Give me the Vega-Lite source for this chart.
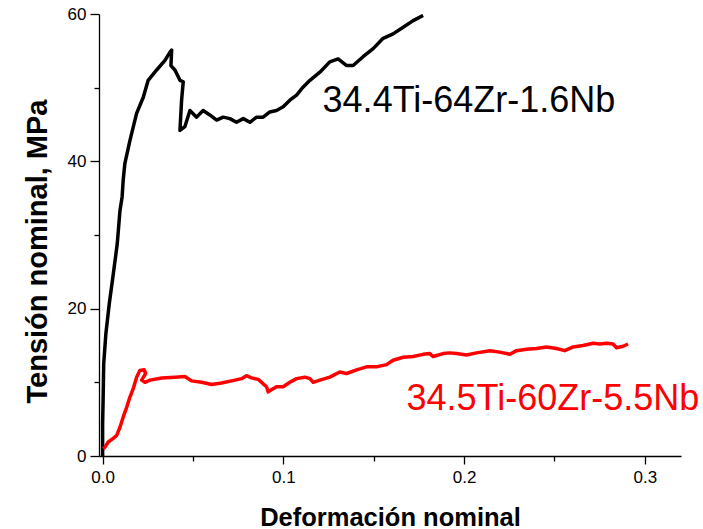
{
  "$schema": "https://vega.github.io/schema/vega-lite/v6.json",
  "autosize": {"type": "none"},
  "width": 582,
  "height": 442,
  "padding": {"left": 99, "top": 14, "right": 22, "bottom": 73},
  "background": "white",
  "config": {
    "view": {"stroke": null},
    "font": "Liberation Sans",
    "axis": {"grid": false, "domainColor": "black", "tickColor": "black", "labelColor": "black", "titleColor": "black", "domainWidth": 1.3, "tickWidth": 1.3, "labelFont": "Liberation Sans", "titleFont": "Liberation Sans", "labelFontSize": 17, "titleFontSize": 25.5, "titleFontWeight": "bold"}
  },
  "datasets": {
    "curves": [
      {"s": "A", "i": 0, "x": 0.0, "y": 0.0},
      {"s": "A", "i": 1, "x": 0.0, "y": 4.4},
      {"s": "A", "i": 2, "x": 0.0003, "y": 8.0},
      {"s": "A", "i": 3, "x": 0.0006, "y": 12.5},
      {"s": "A", "i": 4, "x": 0.0018, "y": 16.6},
      {"s": "A", "i": 5, "x": 0.0037, "y": 20.7},
      {"s": "A", "i": 6, "x": 0.0059, "y": 24.7},
      {"s": "A", "i": 7, "x": 0.0081, "y": 28.8},
      {"s": "A", "i": 8, "x": 0.0096, "y": 33.3},
      {"s": "A", "i": 9, "x": 0.0108, "y": 35.2},
      {"s": "A", "i": 10, "x": 0.0114, "y": 37.5},
      {"s": "A", "i": 11, "x": 0.0123, "y": 39.7},
      {"s": "A", "i": 12, "x": 0.0151, "y": 42.8},
      {"s": "A", "i": 13, "x": 0.0188, "y": 46.5},
      {"s": "A", "i": 14, "x": 0.0225, "y": 48.7},
      {"s": "A", "i": 15, "x": 0.0252, "y": 51.0},
      {"s": "A", "i": 16, "x": 0.0299, "y": 52.4},
      {"s": "A", "i": 17, "x": 0.0345, "y": 53.7},
      {"s": "A", "i": 18, "x": 0.0372, "y": 54.8},
      {"s": "A", "i": 19, "x": 0.0382, "y": 55.1},
      {"s": "A", "i": 20, "x": 0.0378, "y": 53.0},
      {"s": "A", "i": 21, "x": 0.0400, "y": 52.4},
      {"s": "A", "i": 22, "x": 0.0428, "y": 51.0},
      {"s": "A", "i": 23, "x": 0.0446, "y": 50.8},
      {"s": "A", "i": 24, "x": 0.0437, "y": 48.3},
      {"s": "A", "i": 25, "x": 0.0428, "y": 44.2},
      {"s": "A", "i": 26, "x": 0.0455, "y": 44.7},
      {"s": "A", "i": 27, "x": 0.0483, "y": 46.9},
      {"s": "A", "i": 28, "x": 0.0520, "y": 46.0},
      {"s": "A", "i": 29, "x": 0.0556, "y": 46.9},
      {"s": "A", "i": 30, "x": 0.0593, "y": 46.3},
      {"s": "A", "i": 31, "x": 0.0631, "y": 45.6},
      {"s": "A", "i": 32, "x": 0.0667, "y": 46.0},
      {"s": "A", "i": 33, "x": 0.0704, "y": 45.8},
      {"s": "A", "i": 34, "x": 0.0741, "y": 45.3},
      {"s": "A", "i": 35, "x": 0.0778, "y": 45.8},
      {"s": "A", "i": 36, "x": 0.0815, "y": 45.3},
      {"s": "A", "i": 37, "x": 0.0852, "y": 46.0},
      {"s": "A", "i": 38, "x": 0.0888, "y": 46.0},
      {"s": "A", "i": 39, "x": 0.0925, "y": 46.7},
      {"s": "A", "i": 40, "x": 0.0962, "y": 46.9},
      {"s": "A", "i": 41, "x": 0.0999, "y": 47.4},
      {"s": "A", "i": 42, "x": 0.1036, "y": 48.3},
      {"s": "A", "i": 43, "x": 0.1073, "y": 49.0},
      {"s": "A", "i": 44, "x": 0.1110, "y": 50.1},
      {"s": "A", "i": 45, "x": 0.1147, "y": 51.0},
      {"s": "A", "i": 46, "x": 0.1202, "y": 52.1},
      {"s": "A", "i": 47, "x": 0.1257, "y": 53.5},
      {"s": "A", "i": 48, "x": 0.1303, "y": 53.9},
      {"s": "A", "i": 49, "x": 0.1350, "y": 53.0},
      {"s": "A", "i": 50, "x": 0.1386, "y": 53.0},
      {"s": "A", "i": 51, "x": 0.1441, "y": 54.2},
      {"s": "A", "i": 52, "x": 0.1497, "y": 55.3},
      {"s": "A", "i": 53, "x": 0.1552, "y": 56.7},
      {"s": "A", "i": 54, "x": 0.1607, "y": 57.3},
      {"s": "A", "i": 55, "x": 0.1663, "y": 58.2},
      {"s": "A", "i": 56, "x": 0.1718, "y": 59.1},
      {"s": "A", "i": 57, "x": 0.1773, "y": 59.8},
      {"s": "B", "i": 0, "x": 0.0003, "y": 1.0},
      {"s": "B", "i": 1, "x": 0.0013, "y": 1.2},
      {"s": "B", "i": 2, "x": 0.0031, "y": 1.9},
      {"s": "B", "i": 3, "x": 0.0059, "y": 2.4},
      {"s": "B", "i": 4, "x": 0.0078, "y": 2.8},
      {"s": "B", "i": 5, "x": 0.0096, "y": 3.9},
      {"s": "B", "i": 6, "x": 0.0114, "y": 5.3},
      {"s": "B", "i": 7, "x": 0.0133, "y": 6.6},
      {"s": "B", "i": 8, "x": 0.0151, "y": 8.0},
      {"s": "B", "i": 9, "x": 0.0169, "y": 9.1},
      {"s": "B", "i": 10, "x": 0.0188, "y": 10.7},
      {"s": "B", "i": 11, "x": 0.0206, "y": 11.6},
      {"s": "B", "i": 12, "x": 0.0230, "y": 11.7},
      {"s": "B", "i": 13, "x": 0.0238, "y": 11.2},
      {"s": "B", "i": 14, "x": 0.0216, "y": 10.3},
      {"s": "B", "i": 15, "x": 0.0234, "y": 10.0},
      {"s": "B", "i": 16, "x": 0.0262, "y": 10.3},
      {"s": "B", "i": 17, "x": 0.0327, "y": 10.6},
      {"s": "B", "i": 18, "x": 0.0400, "y": 10.7},
      {"s": "B", "i": 19, "x": 0.0455, "y": 10.8},
      {"s": "B", "i": 20, "x": 0.0492, "y": 10.2},
      {"s": "B", "i": 21, "x": 0.0548, "y": 10.0},
      {"s": "B", "i": 22, "x": 0.0603, "y": 9.7},
      {"s": "B", "i": 23, "x": 0.0658, "y": 9.9},
      {"s": "B", "i": 24, "x": 0.0713, "y": 10.2},
      {"s": "B", "i": 25, "x": 0.0769, "y": 10.5},
      {"s": "B", "i": 26, "x": 0.0796, "y": 10.9},
      {"s": "B", "i": 27, "x": 0.0824, "y": 10.6},
      {"s": "B", "i": 28, "x": 0.0861, "y": 10.4},
      {"s": "B", "i": 29, "x": 0.0888, "y": 9.8},
      {"s": "B", "i": 30, "x": 0.0907, "y": 9.4},
      {"s": "B", "i": 31, "x": 0.0916, "y": 8.7},
      {"s": "B", "i": 32, "x": 0.0934, "y": 9.0},
      {"s": "B", "i": 33, "x": 0.0962, "y": 9.4},
      {"s": "B", "i": 34, "x": 0.0999, "y": 9.4},
      {"s": "B", "i": 35, "x": 0.1036, "y": 10.0},
      {"s": "B", "i": 36, "x": 0.1073, "y": 10.5},
      {"s": "B", "i": 37, "x": 0.1119, "y": 10.7},
      {"s": "B", "i": 38, "x": 0.1147, "y": 10.5},
      {"s": "B", "i": 39, "x": 0.1165, "y": 10.0},
      {"s": "B", "i": 40, "x": 0.1202, "y": 10.3},
      {"s": "B", "i": 41, "x": 0.1257, "y": 10.7},
      {"s": "B", "i": 42, "x": 0.1312, "y": 11.4},
      {"s": "B", "i": 43, "x": 0.1350, "y": 11.2},
      {"s": "B", "i": 44, "x": 0.1405, "y": 11.7},
      {"s": "B", "i": 45, "x": 0.1460, "y": 12.1},
      {"s": "B", "i": 46, "x": 0.1515, "y": 12.1},
      {"s": "B", "i": 47, "x": 0.1571, "y": 12.4},
      {"s": "B", "i": 48, "x": 0.1607, "y": 13.0},
      {"s": "B", "i": 49, "x": 0.1663, "y": 13.4},
      {"s": "B", "i": 50, "x": 0.1718, "y": 13.5},
      {"s": "B", "i": 51, "x": 0.1773, "y": 13.8},
      {"s": "B", "i": 52, "x": 0.1810, "y": 13.9},
      {"s": "B", "i": 53, "x": 0.1829, "y": 13.5},
      {"s": "B", "i": 54, "x": 0.1884, "y": 13.9},
      {"s": "B", "i": 55, "x": 0.1921, "y": 14.0},
      {"s": "B", "i": 56, "x": 0.1958, "y": 13.9},
      {"s": "B", "i": 57, "x": 0.2013, "y": 13.7},
      {"s": "B", "i": 58, "x": 0.2069, "y": 14.0},
      {"s": "B", "i": 59, "x": 0.2142, "y": 14.3},
      {"s": "B", "i": 60, "x": 0.2197, "y": 14.1},
      {"s": "B", "i": 61, "x": 0.2253, "y": 13.8},
      {"s": "B", "i": 62, "x": 0.2290, "y": 14.3},
      {"s": "B", "i": 63, "x": 0.2345, "y": 14.5},
      {"s": "B", "i": 64, "x": 0.2400, "y": 14.6},
      {"s": "B", "i": 65, "x": 0.2456, "y": 14.8},
      {"s": "B", "i": 66, "x": 0.2511, "y": 14.6},
      {"s": "B", "i": 67, "x": 0.2557, "y": 14.3},
      {"s": "B", "i": 68, "x": 0.2603, "y": 14.8},
      {"s": "B", "i": 69, "x": 0.2658, "y": 15.0},
      {"s": "B", "i": 70, "x": 0.2714, "y": 15.3},
      {"s": "B", "i": 71, "x": 0.2751, "y": 15.2},
      {"s": "B", "i": 72, "x": 0.2788, "y": 15.3},
      {"s": "B", "i": 73, "x": 0.2824, "y": 15.2},
      {"s": "B", "i": 74, "x": 0.2843, "y": 14.7},
      {"s": "B", "i": 75, "x": 0.2880, "y": 14.9},
      {"s": "B", "i": 76, "x": 0.2907, "y": 15.2}
    ],
    "labels": [
      {"s": "A", "label": "34.4Ti-64Zr-1.6Nb", "x": 0.1217, "y": 46.7},
      {"s": "B", "label": "34.5Ti-60Zr-5.5Nb", "x": 0.1681, "y": 6.3}
    ]
  },
  "encoding": {
    "x": {
      "field": "x", "type": "quantitative",
      "scale": {"domain": [-0.002, 0.32], "nice": false, "zero": false},
      "axis": {
        "title": "Deformación nominal",
        "values": [0, 0.05, 0.1, 0.15, 0.2, 0.25, 0.3],
        "labelExpr": "round(datum.value*100) % 10 == 0 ? format(datum.value, '.1f') : ''",
        "tickSize": {"condition": {"test": "round(datum.value*100) % 10 != 0", "value": 5}, "value": 8},
        "labelPadding": 5,
        "titleY": 69,
        "titleBaseline": "alphabetic"
      }
    },
    "y": {
      "field": "y", "type": "quantitative",
      "scale": {"domain": [0, 60], "nice": false},
      "axis": {
        "title": "Tensión nominal, MPa",
        "titleFontSize": 29,
        "values": [0, 10, 20, 30, 40, 50, 60],
        "labelExpr": "datum.value % 20 == 0 ? datum.label : ''",
        "tickSize": {"condition": {"test": "datum.value % 20 != 0", "value": 5}, "value": 9},
        "labelPadding": 4,
        "titleX": -53,
        "titleY": 237,
        "titleBaseline": "alphabetic"
      }
    },
    "color": {
      "field": "s", "type": "nominal",
      "scale": {"domain": ["A", "B"], "range": ["#000000", "#ff0000"]},
      "legend": null
    }
  },
  "layer": [
    {
      "data": {"name": "curves"},
      "mark": {"type": "line", "strokeWidth": 3.5, "strokeJoin": "round", "clip": true},
      "encoding": {"order": {"field": "i", "type": "quantitative"}, "detail": {"field": "s"}}
    },
    {
      "data": {"name": "labels"},
      "mark": {"type": "text", "align": "left", "baseline": "alphabetic", "fontSize": 36, "font": "Liberation Sans"},
      "encoding": {"text": {"field": "label"}}
    }
  ]
}
